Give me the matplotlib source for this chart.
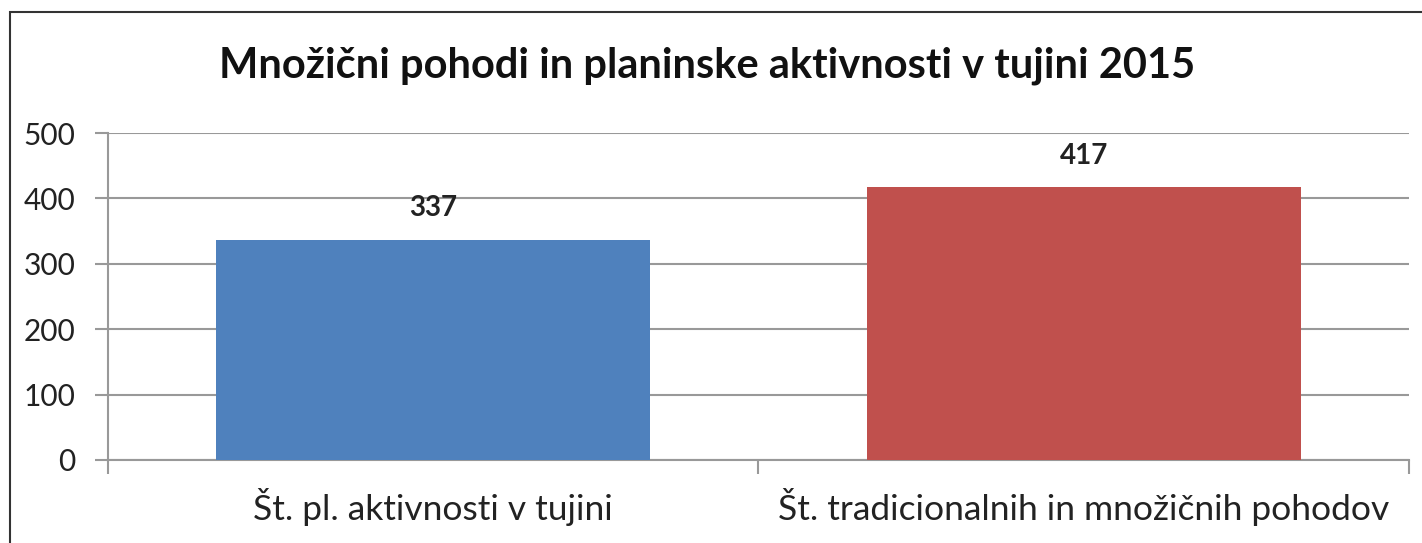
import matplotlib
matplotlib.use("Agg")
import matplotlib.pyplot as plt
from matplotlib.patches import Rectangle

categories = ["Št. pl. aktivnosti v tujini", "Št. tradicionalnih in množičnih pohodov"]
values = [337, 417]
colors = ["#4F81BD", "#C0504D"]
title = "Množični pohodi in planinske aktivnosti v tujini 2015"

plt.rcParams["font.family"] = ["Lato", "DejaVu Sans"]

fig = plt.figure(figsize=(14.22, 5.43), dpi=100)
ax = fig.add_axes([0.0759, 0.153, 0.915, 0.602])

x = list(range(len(values)))
ax.bar(x, values, width=0.667, color=colors, zorder=3)
for xi, v in zip(x, values):
    ax.text(xi, v + 48, str(v), ha="center", va="center", fontsize=20,
            fontweight="bold", color="#222222")

ax.set_xlim(-0.5, 1.5)
ax.set_ylim(0, 500)
ax.set_yticks(range(0, 501, 100))
ax.set_xticks([-0.5, 0.5, 1.5], minor=False)
ax.set_xticklabels([])
ax.set_xticks(x, minor=True)
ax.set_xticklabels(categories, minor=True, fontsize=25.5, color="#222222")
ax.tick_params(axis="x", which="minor", length=0, pad=20)
ax.tick_params(axis="x", which="major", direction="out", length=10, color="#999999", width=1.5)
ax.tick_params(axis="y", direction="out", length=9.5, color="#999999", width=1.5,
               labelsize=21.5, labelcolor="#222222", pad=14)
ax.grid(axis="y", color="#999999", linewidth=1.5, zorder=0)
for s in ["top", "right"]:
    ax.spines[s].set_visible(False)
for s in ["left", "bottom"]:
    ax.spines[s].set_color("#999999")
    ax.spines[s].set_linewidth(1.5)

fig.text(0.497, 0.878, title, ha="center", va="center", fontsize=30,
         fontweight="bold", color="#111111")

# outer chart frame
fig.patches.append(Rectangle((10 / 1422, -0.1), 1.2, 1 - 12 / 543 + 0.1,
                             transform=fig.transFigure, fill=False,
                             edgecolor="#333333", linewidth=1.5))

fig.savefig("out.png", dpi=100)
